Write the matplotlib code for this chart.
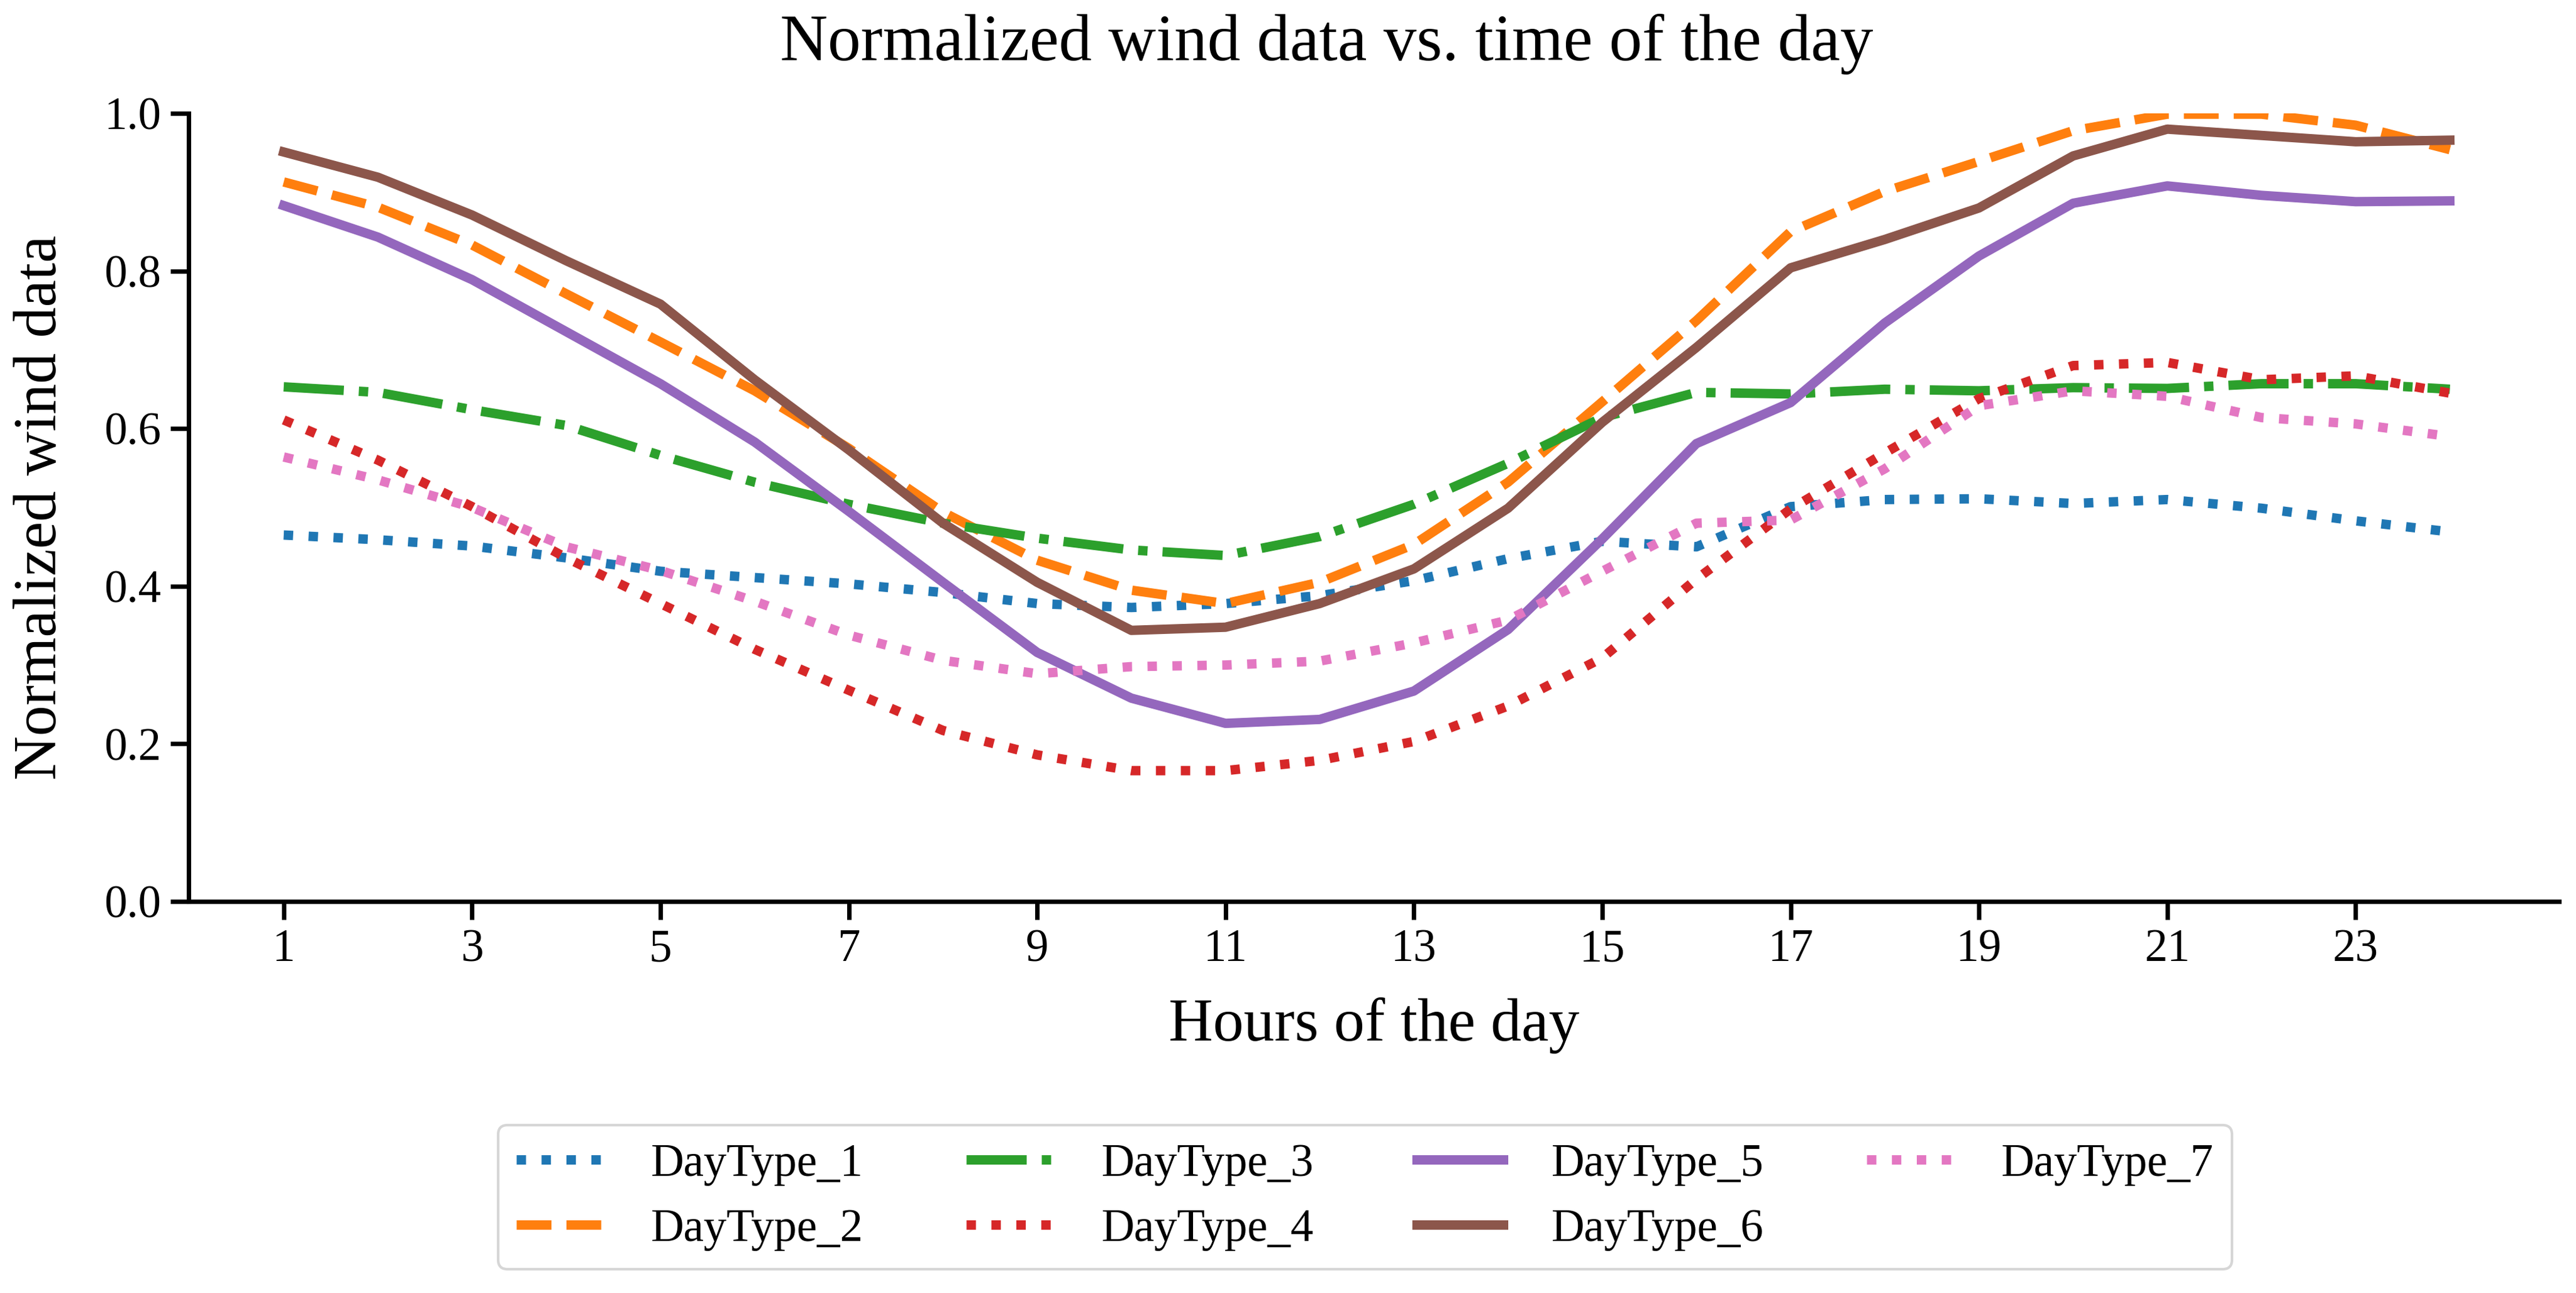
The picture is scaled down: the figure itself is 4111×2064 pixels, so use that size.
import matplotlib
matplotlib.use("Agg")
import matplotlib.pyplot as plt

plt.rcParams["font.family"] = ["Liberation Serif", "DejaVu Serif"]

# hours of the day and normalized wind profile for each day type
hours = list(range(1, 25))

day_type_1 = [0.465, 0.459, 0.451, 0.436, 0.419, 0.411, 0.403, 0.392, 0.378, 0.373,
              0.378, 0.388, 0.407, 0.435, 0.457, 0.450, 0.501, 0.510, 0.511, 0.505,
              0.510, 0.499, 0.483, 0.469]
day_type_2 = [0.913, 0.881, 0.833, 0.771, 0.710, 0.648, 0.575, 0.494, 0.433, 0.395,
              0.378, 0.405, 0.453, 0.532, 0.634, 0.737, 0.850, 0.901, 0.939, 0.978,
              0.999, 0.999, 0.985, 0.954]
day_type_3 = [0.653, 0.646, 0.624, 0.604, 0.566, 0.532, 0.504, 0.480, 0.461, 0.446,
              0.439, 0.463, 0.504, 0.556, 0.614, 0.646, 0.644, 0.650, 0.648, 0.652,
              0.651, 0.657, 0.657, 0.650]
day_type_4 = [0.611, 0.560, 0.501, 0.436, 0.378, 0.320, 0.268, 0.217, 0.186, 0.166,
              0.166, 0.179, 0.203, 0.248, 0.309, 0.409, 0.498, 0.569, 0.638, 0.680,
              0.684, 0.662, 0.667, 0.645]
day_type_5 = [0.883, 0.843, 0.789, 0.723, 0.657, 0.583, 0.495, 0.405, 0.316, 0.258,
              0.226, 0.231, 0.267, 0.345, 0.460, 0.581, 0.633, 0.734, 0.819, 0.886,
              0.908, 0.896, 0.888, 0.889]
day_type_6 = [0.951, 0.919, 0.871, 0.813, 0.758, 0.662, 0.573, 0.480, 0.405, 0.344,
              0.348, 0.378, 0.422, 0.499, 0.608, 0.703, 0.804, 0.840, 0.880, 0.946,
              0.980, 0.972, 0.964, 0.966]
day_type_7 = [0.564, 0.535, 0.500, 0.450, 0.420, 0.381, 0.338, 0.306, 0.289, 0.298,
              0.300, 0.305, 0.328, 0.357, 0.419, 0.480, 0.484, 0.549, 0.629, 0.648,
              0.641, 0.614, 0.606, 0.590]

series = {
    "DayType_1": day_type_1,
    "DayType_2": day_type_2,
    "DayType_3": day_type_3,
    "DayType_4": day_type_4,
    "DayType_5": day_type_5,
    "DayType_6": day_type_6,
    "DayType_7": day_type_7,
}
styles = [":", "--", "-.", ":", "-", "-", ":"]
colors = ["#1f77b4", "#ff7f0e", "#2ca02c", "#d62728", "#9467bd", "#8c564b", "#e377c2"]

W, H = 4111, 2064
fig = plt.figure(figsize=(W / 300, H / 300), dpi=300)
ax = fig.add_axes([301 / W, 1 - 1439 / H, (4084 - 301) / W, (1439 - 181) / H])

for (name, values), style, color in zip(series.items(), styles, colors):
    ax.plot(hours, values, linestyle=style, color=color, linewidth=3.6, label=name)

ax.set_xlim(-0.01, 25.16)
ax.set_ylim(0.0, 1.0)
ax.set_xticks(range(1, 24, 2))
ax.set_yticks([0.0, 0.2, 0.4, 0.6, 0.8, 1.0])
ax.set_yticklabels(["0.0", "0.2", "0.4", "0.6", "0.8", "1.0"])
ax.tick_params(labelsize=17.5, length=7, width=1.7)
for side in ("top", "right"):
    ax.spines[side].set_visible(False)
for side in ("left", "bottom"):
    ax.spines[side].set_linewidth(1.7)

ax.set_xlabel("Hours of the day", fontsize=23.5, labelpad=10)
ax.set_ylabel("Normalized wind data", fontsize=23.5, labelpad=13.5)
fig.text(2117 / W, 1 - 96 / H, "Normalized wind data vs. time of the day",
         fontsize=25.3, ha="center", va="baseline")

fig.legend(loc="upper center", bbox_to_anchor=(2178.5 / W, 1 - 1796 / H),
           ncol=4, fontsize=17.5, borderaxespad=0, frameon=True,
           handlelength=1.9, handletextpad=1.05, columnspacing=2.25)

fig.savefig("out.png", dpi=300)
